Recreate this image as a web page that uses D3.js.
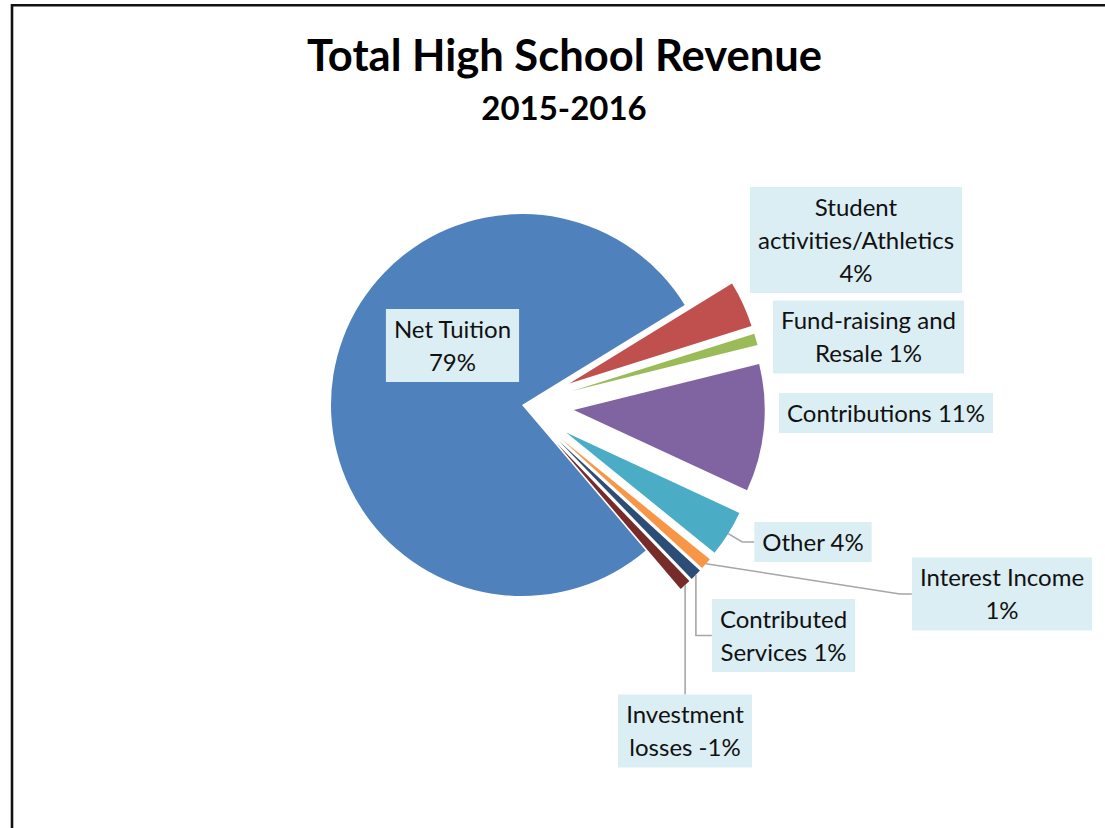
<!DOCTYPE html>
<html><head><meta charset="utf-8">
<script src="https://cdn.jsdelivr.net/npm/d3@7"></script>
<style>html,body{margin:0;padding:0;background:#fff;overflow:hidden;} svg{display:block;}</style>
</head><body>
<svg id="chart" width="1105" height="828"></svg>
<script>
// ---- data ----
const categories = ["Net Tuition","Student activities/Athletics","Fund-raising and Resale","Contributions","Other","Interest Income","Contributed Services","Investment losses"];
const values = [79, 4, 1, 11, 4, 1, 1, -1];
const colors = ["#4F81BD","#C0504D","#9BBB59","#8064A2","#4BACC6","#F79646","#2C4D75","#772C2A"];
const titleText = "Total High School Revenue";
const subtitleText = "2015-2016";

// ---- layout ----
const W = 1105, H = 828;
const pieCx = 522, pieCy = 405, R = 191;
const startDeg = 139.6;
const labelFont = "Lato, 'Open Sans', sans-serif";
const labelSize = 24, lineH = 33, padX = 8, padY = 3.5;
const layout = {
  "Net Tuition":                 {x: 452.5, y: 345.5, words: [2,1],   explode: 0,  leader: null},
  "Student activities/Athletics":{x: 856,   y: 240,   words: [1,1,1], explode: 52, leader: null},
  "Fund-raising and Resale":     {x: 868.5, y: 337,   words: [2,2],   explode: 52, leader: null},
  "Contributions":               {x: 886,   y: 413,   words: [2],     explode: 52, leader: null},
  "Other":                       {x: 813,   y: 542,   words: [2],     explode: 52, leader: "elbow"},
  "Interest Income":             {x: 1002,  y: 594,   words: [2,1],   explode: 52, leader: "elbow"},
  "Contributed Services":        {x: 783.5, y: 635.5, words: [1,2],   explode: 52, leader: "vertical"},
  "Investment losses":           {x: 685,   y: 731,   words: [1,2],   explode: 52, leader: "top"}
};

const data = categories.map((c, i) => ({category: c, value: values[i], color: colors[i]}));

const svg = d3.select("#chart");
svg.append("rect").attr("width", W).attr("height", H).attr("fill", "#fff");
// chart frame (only top and left edges visible in the picture)
svg.append("path").attr("d", `M12,${H} V5.3 H${W}`)
  .attr("fill", "none").attr("stroke", "#111").attr("stroke-width", 2.6);

// titles
svg.append("text").attr("x", 564.5).attr("y", 71).attr("text-anchor", "middle")
  .attr("font-family", labelFont).attr("font-weight", 700).attr("font-size", 43.5)
  .attr("fill", "#000").text(titleText);
svg.append("text").attr("x", 564).attr("y", 120).attr("text-anchor", "middle")
  .attr("font-family", labelFont).attr("font-weight", 700).attr("font-size", 33)
  .attr("fill", "#000").text(subtitleText);

// pie
const a0 = startDeg * Math.PI / 180;
const pie = d3.pie().sort(null).value(d => Math.abs(d.value)).startAngle(a0).endAngle(a0 + 2 * Math.PI);
const arc = d3.arc().innerRadius(0).outerRadius(R);
const arcs = pie(data);

const g = svg.append("g").attr("transform", `translate(${pieCx},${pieCy})`);
g.selectAll("path").data(arcs).join("path")
  .attr("d", arc)
  .attr("fill", d => d.data.color)
  .attr("transform", d => {
    const e = layout[d.data.category].explode;
    const m = (d.startAngle + d.endAngle) / 2;
    return `translate(${e * Math.sin(m)},${-e * Math.cos(m)})`;
  });

// labels
const labelsG = svg.append("g");
const leaderG = svg.insert("g", () => labelsG.node());
arcs.forEach(d => {
  const c = d.data.category, L = layout[c];
  const full = `${c} ${d.data.value}%`.split(" ");
  const lines = [];
  let k = 0;
  L.words.forEach(n => { lines.push(full.slice(k, k + n).join(" ")); k += n; });
  const lg = labelsG.append("g");
  const rect = lg.append("rect").attr("fill", "#DBEEF4");
  const t = lg.append("text").attr("text-anchor", "middle")
    .attr("font-family", labelFont).attr("font-size", labelSize).attr("fill", "#111");
  lines.forEach((ln, i) => {
    t.append("tspan").attr("x", L.x)
      .attr("y", L.y + (i - (lines.length - 1) / 2) * lineH)
      .attr("dy", "0.36em").text(ln);
  });
  const tw = t.node().getBBox().width;
  const bw = tw + 2 * padX, bh = lines.length * lineH + 2 * padY;
  const bx = L.x - bw / 2, by = L.y - bh / 2;
  rect.attr("x", bx).attr("y", by).attr("width", bw).attr("height", bh);

  if (L.leader) {
    const m = (d.startAngle + d.endAngle) / 2;
    const r = R + L.explode;
    const sx = pieCx + r * Math.sin(m), sy = pieCy - r * Math.cos(m);
    let pts;
    if (L.leader === "elbow") pts = [[sx, sy], [bx - 12, L.y], [bx, L.y]];
    else if (L.leader === "vertical") pts = [[sx, sy], [sx, L.y], [bx, L.y]];
    else pts = [[sx, sy], [sx, by]];
    leaderG.append("path").attr("d", d3.line()(pts))
      .attr("fill", "none").attr("stroke", "#A6A6A6").attr("stroke-width", 1.6);
  }
});
</script>
</body></html>
